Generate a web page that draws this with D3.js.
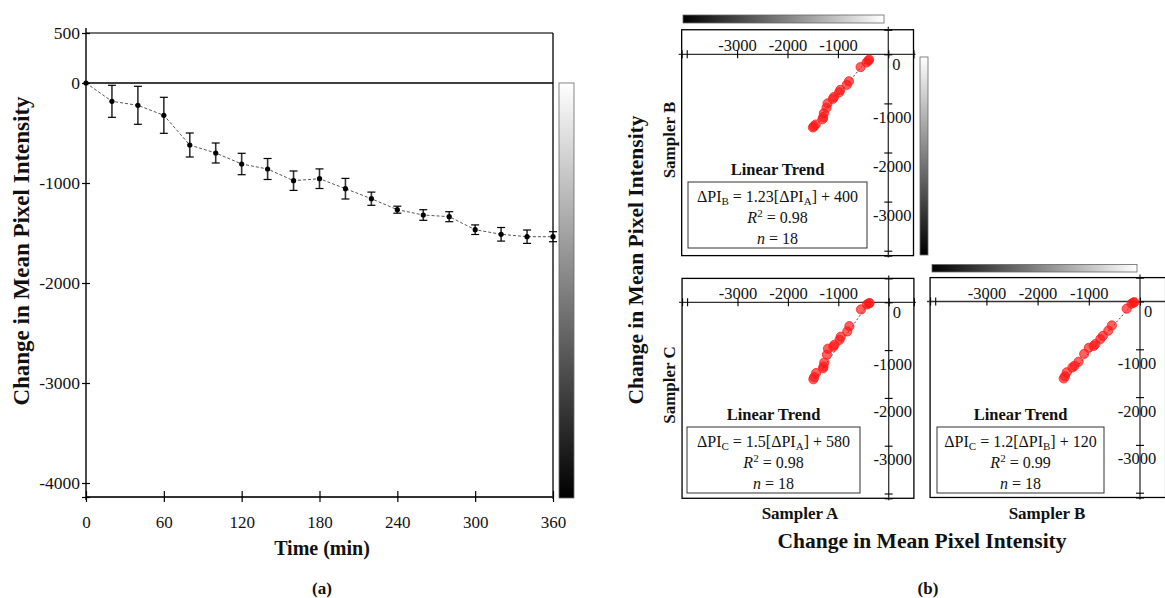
<!DOCTYPE html>
<html><head><meta charset="utf-8">
<script src="https://cdn.jsdelivr.net/npm/d3@7"></script>
<style>
body{margin:0;background:#fff}
svg{display:block}
text{font-family:"Liberation Serif","Times New Roman",serif;fill:#111}
</style>
</head><body>
<svg id="c" width="1165" height="598"></svg>
<script>
// ---------- data ----------
const times = [0,20,40,60,80,100,120,140,160,180,200,220,240,260,280,300,320,340,360];
const meanChange = [0,-183,-223,-323,-620,-700,-810,-860,-977,-957,-1057,-1157,-1267,-1320,-1337,-1467,-1513,-1537,-1537];
const errorBars = [0,160,190,180,120,100,107,105,97,98,103,66,35,53,50,48,68,67,50];
const timeTicks = [0,60,120,180,240,300,360];
const intensityTicks = [500,0,-1000,-2000,-3000,-4000];

const samplerA = [-380,-395,-430,-550,-780,-822,-952,-975,-1078,-1098,-1205,-1225,-1278,-1292,-1303,-1440,-1478,-1495];
const samplerB = [-110,-130,-165,-260,-550,-620,-725,-775,-870,-905,-1000,-1090,-1200,-1280,-1320,-1430,-1465,-1490];
const samplerC = [-15,-25,-45,-150,-500,-610,-720,-785,-890,-930,-970,-1095,-1260,-1345,-1380,-1480,-1565,-1610];
const trendSlopes = [1.23, 1.5, 1.2];
const trendIntercepts = [400, 580, 120];
const trendR2 = ["0.98","0.98","0.99"];
const trendN = [18,18,18];
const subXTickLabels = [-3000,-2000,-1000];
const subYTickLabels = [0,-1000,-2000,-3000];
const subAllTicks = [-4100,-4000,-3000,-2000,-1000,0,500];

// ---------- setup ----------
const svg = d3.select('#c');
const FONT = '"Liberation Serif","Times New Roman",serif';
const defs = svg.append('defs');
const gH = defs.append('linearGradient').attr('id','gH').attr('x1',0).attr('x2',1).attr('y1',0).attr('y2',0);
gH.append('stop').attr('offset','0%').attr('stop-color','#000');
gH.append('stop').attr('offset','100%').attr('stop-color','#fff');
const gV = defs.append('linearGradient').attr('id','gV').attr('x1',0).attr('x2',0).attr('y1',0).attr('y2',1);
gV.append('stop').attr('offset','0%').attr('stop-color','#fff');
gV.append('stop').attr('offset','100%').attr('stop-color','#000');

function line(x1,y1,x2,y2,stroke,w){
  return svg.append('line').attr('x1',x1).attr('y1',y1).attr('x2',x2).attr('y2',y2)
    .attr('stroke',stroke||'#000').attr('stroke-width',w||1);
}
function text(x,y,s,opt){
  opt = opt||{};
  const t = svg.append('text').attr('x',x).attr('y',y).text(s)
    .attr('font-size',opt.size||16).attr('text-anchor',opt.anchor||'middle')
    .attr('font-weight',opt.bold?'bold':'normal');
  if(opt.rotate) t.attr('transform',`rotate(-90,${x},${y})`);
  return t;
}

// ---------- panel (a) ----------
const xT = d3.scaleLinear().domain([0,360]).range([86,553]);
const yI = d3.scaleLinear().domain([-4140,500]).range([497,33]);

line(86, yI(500), 553, yI(500), '#444', 1.3);
line(86, yI(0), 553, yI(0), '#000', 1.4);
line(553, yI(500), 553, 499, '#000', 1.3);
line(86, 28, 86, 500, '#000', 1.4);
line(86, 497, 553, 497, '#333', 2);

const axL = svg.append('g').attr('transform','translate(86,0)')
  .call(d3.axisLeft(yI).tickValues(intensityTicks.concat([-4140])).tickFormat(d => d===-4140?'':String(d)).tickSizeOuter(0));
axL.select('.domain').remove();
axL.attr('font-family',FONT).attr('font-size',17.5);
axL.selectAll('.tick line').attr('x1',-4).attr('x2',4).attr('stroke','#000').attr('stroke-width',1.2);
axL.selectAll('.tick text').attr('x',-6).attr('fill','#111');

const axB = svg.append('g').attr('transform','translate(0,497)')
  .call(d3.axisBottom(xT).tickValues(timeTicks).tickFormat(d => String(d)).tickSizeOuter(0));
axB.select('.domain').remove();
axB.attr('font-family',FONT).attr('font-size',17);
axB.selectAll('.tick line').attr('y1',-6).attr('y2',5).attr('stroke','#000').attr('stroke-width',1.2);
axB.selectAll('.tick text').attr('y',19).attr('fill','#111');

// colorbar (a)
svg.append('rect').attr('x',559).attr('y',83).attr('width',15).attr('height',415)
  .attr('fill','url(#gV)').attr('stroke','#666').attr('stroke-width',0.8);

// series line
svg.append('path').datum(times.map((t,i)=>[t,meanChange[i]]))
  .attr('d', d3.line().x(d=>xT(d[0])).y(d=>yI(d[1])))
  .attr('fill','none').attr('stroke','#555').attr('stroke-width',1).attr('stroke-dasharray','3,2');
// error bars
const eb = svg.append('g');
times.forEach((t,i)=>{
  if(errorBars[i]<=0) return;
  const cx = xT(t), y1 = yI(meanChange[i]-errorBars[i]), y2 = yI(meanChange[i]+errorBars[i]);
  eb.append('line').attr('x1',cx).attr('x2',cx).attr('y1',y1).attr('y2',y2).attr('stroke','#333').attr('stroke-width',1.6);
  eb.append('line').attr('x1',cx-4).attr('x2',cx+4).attr('y1',y1).attr('y2',y1).attr('stroke','#000').attr('stroke-width',1.2);
  eb.append('line').attr('x1',cx-4).attr('x2',cx+4).attr('y1',y2).attr('y2',y2).attr('stroke','#000').attr('stroke-width',1.2);
});
svg.append('g').selectAll('circle').data(times).join('circle')
  .attr('cx',(t)=>xT(t)).attr('cy',(t,i)=>yI(meanChange[i])).attr('r',2.6).attr('fill','#000');

text(21, 251, 'Change in Mean Pixel Intensity', {size:23, bold:true, rotate:true}).attr('dy','0.35em');
text(322, 555, 'Time (min)', {size:20, bold:true});
text(322, 594, '(a)', {size:17, bold:true});

// ---------- panel (b) ----------
function subplot(c){
  const xs = d3.scaleLinear().domain([-4100,500]).range([c.x0-4100*c.kx, c.x0+500*c.kx]);
  const ys = d3.scaleLinear().domain([-4100,500]).range([c.y0+4100*c.ky, c.y0-500*c.ky]);
  const L = xs(-4100), R = xs(500), T = ys(500), B = ys(-4100);
  svg.append('rect').attr('x',L).attr('y',T).attr('width',R-L).attr('height',B-T)
    .attr('fill','none').attr('stroke','#000').attr('stroke-width',1.3);
  line(L-3, ys(0), R+2, ys(0), '#333', 1.3);
  line(xs(0), T-3, xs(0), B+2, '#333', 1.3);
  const ax = svg.append('g').attr('transform',`translate(0,${ys(0)})`)
    .call(d3.axisTop(xs).tickValues(subAllTicks).tickFormat(d => subXTickLabels.includes(d)?String(d):'').tickSizeOuter(0));
  ax.select('.domain').remove();
  ax.attr('font-family',FONT).attr('font-size',16.5);
  ax.selectAll('.tick line').attr('y1',-4).attr('y2',4).attr('stroke','#000').attr('stroke-width',1.1);
  ax.selectAll('.tick text').attr('y',-3).attr('dy',0).attr('fill','#111');
  const ay = svg.append('g').attr('transform',`translate(${xs(0)},0)`)
    .call(d3.axisRight(ys).tickValues(subAllTicks).tickFormat(d => subYTickLabels.includes(d)?String(d):'').tickSizeOuter(0));
  ay.select('.domain').remove();
  ay.attr('font-family',FONT).attr('font-size',16.5);
  ay.selectAll('.tick line').attr('x1',-4).attr('x2',4).attr('stroke','#000').attr('stroke-width',1.1);
  ay.selectAll('.tick text').attr('dy',0).attr('fill','#111')
    .attr('text-anchor',d => d===0?'start':'middle')
    .attr('x',d => d===0?4:c.ylabDx)
    .attr('y',d => d===0?15:19);
  const xd = d3.extent(c.xv);
  const f = v => c.slope*v + c.icpt;
  line(xs(xd[0]+40), ys(f(xd[0]+40)), xs(xd[1]-20), ys(f(xd[1]-20)), '#333', 0.9).attr('stroke-dasharray','2,2');
  svg.append('g').selectAll('circle').data(c.xv).join('circle')
    .attr('cx',d=>xs(d)).attr('cy',(d,i)=>ys(c.yv[i])).attr('r',4.6)
    .attr('fill','rgba(255,20,20,0.68)').attr('stroke','#f22').attr('stroke-width',0.8);
  const cx = (c.bx0+c.bx1)/2;
  text(cx, c.ty, 'Linear Trend', {size:16.5, bold:true});
  svg.append('rect').attr('x',c.bx0).attr('y',c.by0).attr('width',c.bx1-c.bx0).attr('height',c.by1-c.by0)
    .attr('fill','none').attr('stroke','#333').attr('stroke-width',1);
  const eq = svg.append('text').attr('x',cx).attr('y',c.by0+20).attr('text-anchor','middle').attr('font-size',16);
  eq.append('tspan').text('ΔPI');
  eq.append('tspan').text(c.ysub).attr('font-size',11).attr('dy',3);
  eq.append('tspan').text(` = ${c.slope}[ΔPI`).attr('dy',-3);
  eq.append('tspan').text(c.xsub).attr('font-size',11).attr('dy',3);
  eq.append('tspan').text(`] + ${c.icpt}`).attr('dy',-3);
  const r2 = svg.append('text').attr('x',cx).attr('y',c.by0+41).attr('text-anchor','middle').attr('font-size',16);
  r2.append('tspan').text('R').attr('font-style','italic');
  r2.append('tspan').text('2').attr('font-size',11).attr('dy',-6);
  r2.append('tspan').text(` = ${c.r2}`).attr('dy',6);
  const nn = svg.append('text').attr('x',cx).attr('y',c.by0+62).attr('text-anchor','middle').attr('font-size',16);
  nn.append('tspan').text('n').attr('font-style','italic');
  nn.append('tspan').text(` = ${c.n}`);
  return {xs, ys};
}

subplot({x0:888.3,kx:0.0504,y0:54.3,ky:0.0491,xv:samplerA,yv:samplerB,slope:trendSlopes[0],icpt:trendIntercepts[0],
  r2:trendR2[0],n:trendN[0],xsub:'A',ysub:'B',ylabDx:4,ty:175,bx0:688,bx1:867,by0:182,by1:248});
subplot({x0:888.7,kx:0.0504,y0:302.3,ky:0.0478,xv:samplerA,yv:samplerC,slope:trendSlopes[1],icpt:trendIntercepts[1],
  r2:trendR2[1],n:trendN[1],xsub:'A',ysub:'C',ylabDx:4,ty:420,bx0:687,bx1:860,by0:427,by1:493});
subplot({x0:1140,kx:0.0512,y0:301.5,ky:0.0478,xv:samplerB,yv:samplerC,slope:trendSlopes[2],icpt:trendIntercepts[2],
  r2:trendR2[2],n:trendN[2],xsub:'B',ysub:'C',ylabDx:-3,ty:420,bx0:937,bx1:1104,by0:427,by1:493});

svg.append('rect').attr('x',683).attr('y',15).attr('width',201).attr('height',8)
  .attr('fill','url(#gH)').attr('stroke','#666').attr('stroke-width',0.8);
svg.append('rect').attr('x',920).attr('y',57).attr('width',8).attr('height',198)
  .attr('fill','url(#gV)').attr('stroke','#666').attr('stroke-width',0.8);
svg.append('rect').attr('x',932).attr('y',264.5).attr('width',205).attr('height',7.5)
  .attr('fill','url(#gH)').attr('stroke','#666').attr('stroke-width',0.8);

text(800, 519, 'Sampler A', {size:17, bold:true});
text(1047, 519, 'Sampler B', {size:17, bold:true});
text(675, 140, 'Sampler B', {size:17, bold:true, rotate:true});
text(675, 385, 'Sampler C', {size:17, bold:true, rotate:true});
text(643, 260, 'Change in Mean Pixel Intensity', {size:21.5, bold:true, rotate:true});
text(922, 548, 'Change in Mean Pixel Intensity', {size:21.5, bold:true});
text(928, 594, '(b)', {size:17, bold:true});
</script>
</body></html>
